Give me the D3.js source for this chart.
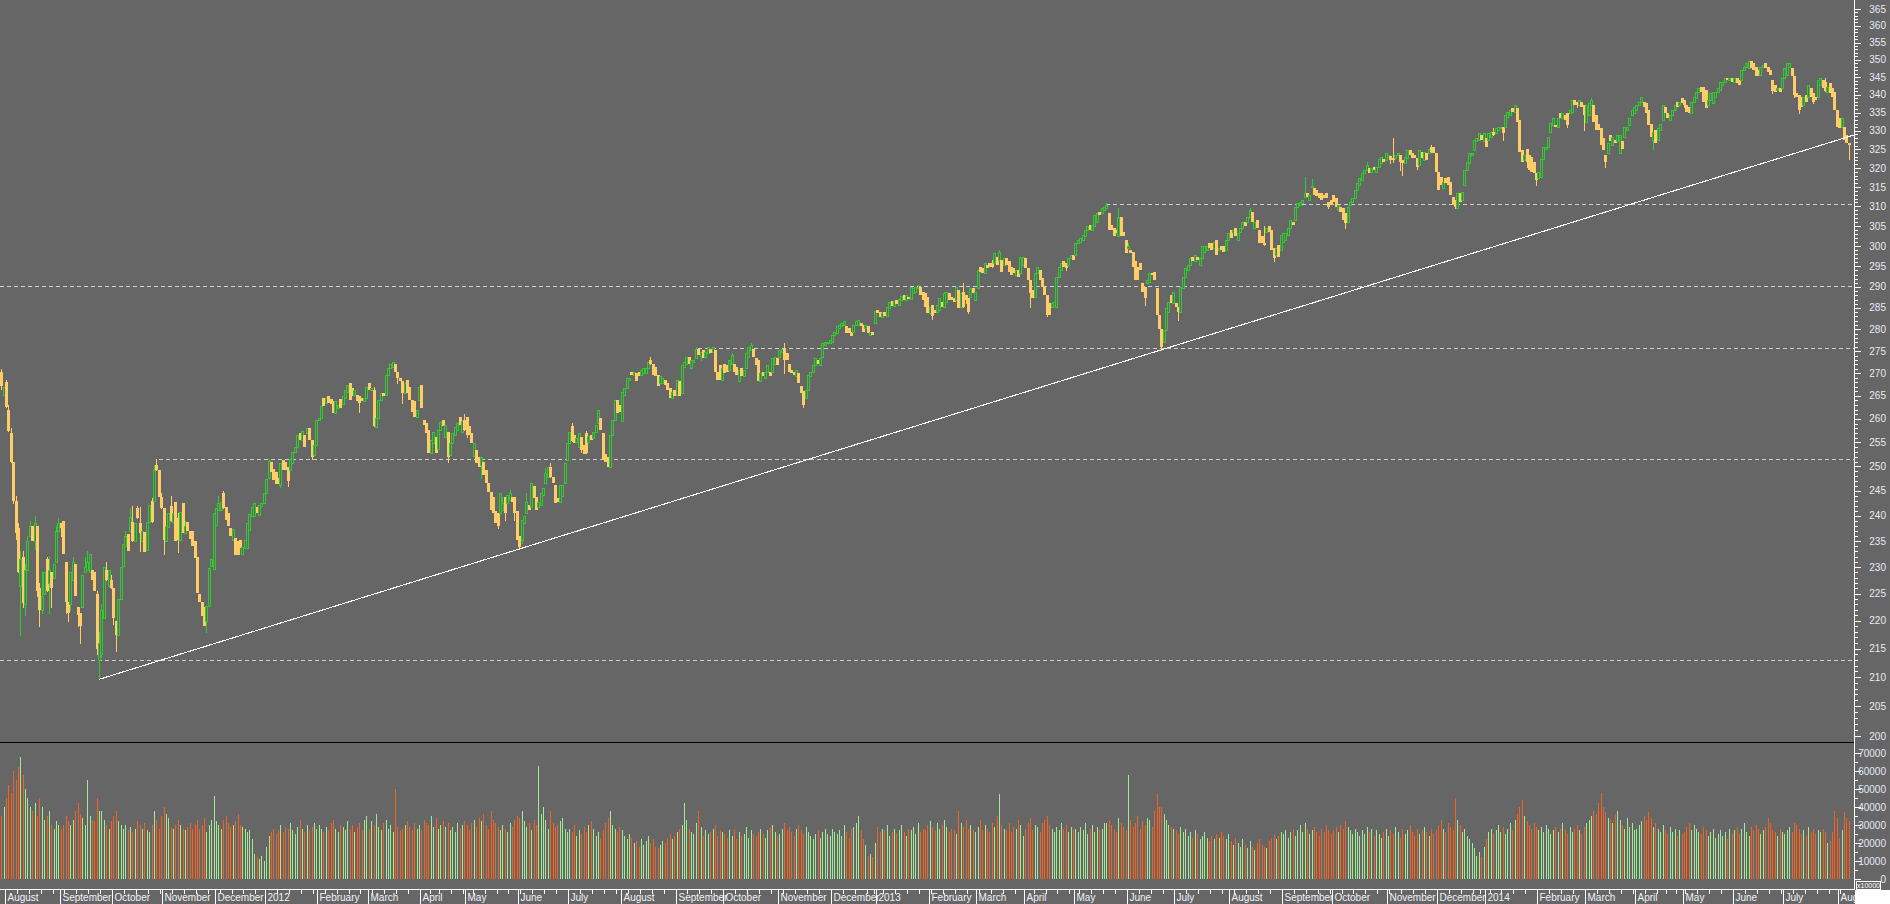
<!DOCTYPE html>
<html><head><meta charset="utf-8">
<script src="https://cdn.jsdelivr.net/npm/d3@7"></script>
<style>html,body{margin:0;padding:0;background:#666;overflow:hidden}svg{display:block}</style>
</head><body>
<svg id="chart" width="1890" height="904"></svg>
<script>
// ---------- DATA ----------
const firstDay = "2011-07-28", lastDay = "2014-08-07";
const holidays = ["2011-12-26","2012-04-06","2012-04-09","2012-05-01","2012-12-25","2012-12-26",
 "2013-01-01","2013-03-29","2013-04-01","2013-05-01","2013-12-25","2013-12-26",
 "2014-01-01","2014-04-18","2014-04-21","2014-05-01"];
const monthNames = ["January","February","March","April","May","June","July","August","September","October","November","December"];

const opens = [
// 2011 Jul-Aug
270.2,265.2,
268,262,257,251,243,237.5,226.5,232,223,229.5,236,238,235,238,226,222,225,231.5,227,229,228,231,237,
// Sep
238.5,239,231,223.5,223,227.5,230.5,222.5,221.5,222.5,229,229.5,229,229.5,229,225,213,214,220.5,229.5,226.5,227.6,
// Oct
226,220,217.5,224,230.3,234,236.3,237,238.8,235,241.5,238.6,235,236.8,233.2,238.8,243,243,250.3,249.3,243.8,
// Nov
241.5,235,237.8,242,238.7,242.8,239.5,235.3,242.5,236.6,238.8,237,236.9,235,232,224.9,223.4,222.5,219.9,222.8,230.3,229.6,
// Dec
238.2,241.2,241.2,244.5,241.8,240.6,237.6,235.3,235.6,235,235.3,232.6,233.7,233.7,237.2,239.9,239.9,241.8,240.2,242,242.5,
// 2012 Jan
244.5,247.5,251,249.4,248.9,247.6,246.2,251.3,250.9,249.9,249.3,250.6,253,254.1,256.9,255.5,256.6,256.9,258,255.5,252.3,254.4,
// Feb
259.8,260.1,264.5,263.5,265,264.3,263.9,261.3,262.4,264.3,263.2,264.6,265.9,267.8,266.7,265.2,265.2,264.9,264.6,263.9,264.6,
// Mar
267.8,266.3,266.3,258.2,260.2,264.1,265.6,265.2,269.6,271.1,271.5,272.2,270.4,268.9,268.2,265.6,268.5,267,264.2,263.9,260.5,264.2,
// Apr
267.4,259.8,259.1,257.7,252.7,254.8,256.2,253.7,257.7,259.8,256.2,257.3,252.3,254.8,256.5,257.7,260.5,257.3,259.8,
// May
260.5,258.5,257,252.2,253.4,252,250.3,251,249.3,246.5,244.8,243.8,240.9,240.5,240.5,241.2,243.8,242.5,243.2,243.8,243.8,240.9,
// Jun
235.9,235.3,238.5,240.5,242.2,241.8,246,243.8,241.8,242.2,244.2,246.5,247.9,249.9,247.9,246.2,243.5,242.8,244,246.5,251.3,
// Jul
254.8,258.4,256.6,255.1,254.1,256.2,254.4,256.9,255.1,256.6,255.9,257.3,259.1,260.2,257,252.6,252,249.9,256.6,259.8,264.1,263,
// Aug
259.5,265.2,266.7,268.6,270.4,269.7,270,270.4,269.7,270,270,271.1,273,272.2,271.5,269.7,267.8,267.8,268.6,267.8,266.7,264.5,266.3,
// Sep
265.2,268.2,265.6,271.5,272.2,273.7,271.1,272.6,273.4,275.6,274,275.3,273.7,274.5,275.6,274.9,275.3,270.4,271.8,268.6,
// Oct
272.2,271.8,270.8,272.2,272.2,271.5,268.2,271.1,269.3,271.1,273.7,275.3,275.6,273.4,273,268.2,270.4,268.9,270.4,270.4,270.4,272.2,273.4,
// Nov
273.7,274.9,275.6,274.5,272.2,270.8,270.4,269.3,270,267.1,266,264.5,266.3,269.3,270.4,271.8,273,271.8,273.7,276.4,276.8,276.8,
// Dec
277.2,278.7,279.1,280.3,280.7,281.1,280.7,280.3,279.5,279.5,281.1,281.1,281.5,281.1,280.3,280.7,278.7,279.5,281.5,
// 2013 Jan
284.5,284,282.8,284,283,285,286.6,285.4,286.8,285.8,287,288,286.9,287.5,287.2,288.5,288.9,289.7,290.1,288.9,288.5,287.5,
// Feb
283.8,285.7,284.5,284.1,284.5,286.5,285.3,286.5,288.5,287.7,287.3,286.9,289.3,285.3,288.9,288.1,287.3,287.7,289.7,286.9,
// Mar
289.7,294.9,294.5,293.3,295.3,295.7,295.7,295.7,297.4,296.6,296.6,295.3,297,296.2,294.9,294.5,292.9,294.1,293.3,295.3,
// Apr
297,294.5,291.7,289.3,287.7,293.3,294.1,292.1,290.1,288.1,286.1,285.3,285.7,285.3,292.5,294.1,296.2,295.7,295.3,297,297.8,
// May
297.8,300.7,301.1,301.5,302.4,304,305.3,304,304.9,306,308.6,308.2,309.1,309.5,308.2,305.3,304.4,304,302.4,307.4,303.6,301.5,
// Jun
299.4,299,298.6,296.2,294.9,295.7,290.9,290.1,290.9,291.3,293.3,293.7,289.7,283.4,280.2,277.1,279.8,284.1,288.1,286.1,
// Jul
286.1,285.3,284.1,289.7,292.5,294.1,295.3,297.4,296.2,297.4,295.3,297,298.6,299,300.7,300.7,299.4,301.5,299,299.9,299.9,299,301.5,
// Aug
304,303.6,304.4,301.5,303.6,304.4,306.1,306.1,307.4,308.6,304.4,306.5,304,302.4,300.7,303.6,304.9,304,299.4,297.8,300.3,299,
// Sep
301.1,301.5,302.8,304.4,306.1,306.5,309.9,310.3,310.8,312.5,313.5,311.6,315,314.7,314.3,313.4,313.4,313,313.4,311.2,311.7,
// Oct
312.9,312.1,309.1,309.9,309.5,308.2,306.1,310.3,311.2,312.1,314.3,315.6,316.9,318.6,319.4,319.9,319,320.3,319,320.3,321.2,322.5,322.1,
// Nov
323,323.2,322.6,322.6,323.4,323.4,322.1,321.2,322.6,324.8,323.9,323.4,322.6,320.8,324.3,322.1,323.9,323.9,325.7,325.7,323.9,
// Dec
319,317.7,314.7,317.3,317.7,316.4,312.5,311.6,309.5,313.4,311.6,315.6,319.4,321.2,323.4,324.8,327.1,327.5,328.8,327.1,
// 2014 Jan
328,327.5,328.4,329.8,329.3,330.2,330.7,331.1,331.1,333.9,334.3,336.2,335.3,336.2,332.9,324.8,322.1,325.2,323.4,323,321.7,318.6,
// Feb
317.3,317.7,322.5,325.2,325.7,329.8,331.6,331.6,331.1,334.8,333.4,334.3,334.8,334.8,335.3,338.5,338.1,337.1,338.1,337.1,
// Mar
332.5,334.3,337.1,337.1,334.3,332,330.7,328,323.4,323.9,328.8,326.1,327.5,327.1,323.9,327.1,328.4,330.2,331.6,334.3,334.8,
// Apr
335.7,337.1,338.1,338.1,337.6,335.7,332,327.5,330.2,327.5,330.2,332.9,336.6,334.8,332.9,334.3,335.7,338.1,337.1,339,
// May
338.5,337.1,336.6,334.8,338.1,339,340.9,342.3,342.3,341.4,337.1,338.5,337.6,339.5,340.9,341.4,342.8,343.7,344.7,344.2,344.7,
// Jun
343.7,344.7,344.2,344.2,347.1,348,347.6,349.5,349,348,347.1,345.7,348,349,348,347.1,344.2,342.8,341.4,341.8,341.8,
// Jul
344.7,345.7,348,347.6,345.2,340.4,340,339.5,337.1,339.9,339.5,341.8,340.4,339.5,339.5,342.8,344.2,343.7,340.9,343.3,341.8,340.9,335.7,
// Aug
333.4,331.1,331.1,328.8,326.6
];

const closes = [
267.2,267.0,
262.5,257.5,251,243,236.5,229,231.5,223.2,229.5,235,238,235,238.5,225.5,222,224.5,229,225.5,229.5,226,230.5,237,238.5,
237.5,232.5,223.5,221.5,229,231,224.5,221,219,228.5,230,231,232.5,227.5,225.5,215,216,222,230,227.5,229.5,226,
220.5,217.5,224,230,234.5,236,233,239.8,235,238.5,239.5,236.5,237,232.8,238.8,242.1,238.8,249.3,249.3,243.8,241.5,
235.3,238,240.5,239,240.5,235,235.3,240.8,236.6,238,236.9,235.5,234,231.7,225.2,223.4,220.9,219,222.8,229.8,231.6,240.5,
241.5,242.5,242.8,241.5,239.1,237.9,235.9,237.4,232.3,232.4,233.7,233.9,235.3,238.5,240.4,241.8,242.5,240.5,242.1,242.6,244.5,
247.3,251.2,248.9,247.2,246.4,246.4,250.6,249.3,249.3,246.9,251.6,253,254,256.6,255.5,257.5,254.1,258,255.5,252,254.4,259.8,
260.1,262.7,262.7,264.6,263.5,263.2,261.3,263.9,263.1,262.4,265,266.3,267.4,264.1,264.9,266.3,263.8,263.5,263.9,264.5,267,
266.3,266.8,258.4,260.2,264.1,265.6,264.9,269.6,271.1,272.2,272.6,270.4,268.9,268.2,265.6,267.8,265.6,264.2,261.6,260.5,262,267,
262.3,258.7,256.9,252.7,255.5,257.3,252.7,257.7,259.4,258.4,258.7,252,254.8,257,258.2,259.1,258.8,259.5,257.7,
256.6,256.6,254.8,254.8,250.6,249.9,252,248.2,246.5,244.8,241.2,240.5,238.5,237.9,244.6,242.5,240.5,244.2,244.6,242.8,240.5,235.3,
233.9,239.2,239.9,242.8,241.2,246.5,243.5,241.2,242.8,244.5,245.5,248.6,249.9,247.9,246.5,242.5,242.8,246.2,246.2,250.6,254.8,
257.3,255.2,254.8,255.9,257,253.4,252.6,252.7,256.4,255.5,257.3,258.8,262,257.7,251.3,250.9,249.9,256.6,259.8,264.1,261.3,261.6,
265.9,266.7,268.9,268.9,269.7,270.4,268.2,269.3,270.8,271.1,271.1,272.6,272.2,269.7,269.3,267.1,269.3,268.9,267.4,266.3,264.5,265.9,264.9,
268.6,264.9,271.8,272.6,273.7,272.2,273,273,275.6,274.1,274.9,273.4,274.9,276,274.5,276,270.4,268.6,268.6,271.1,
270,270.4,273,274.1,270.4,269.7,270.8,269.3,270.8,274.5,276,276.4,273.7,271.8,268.2,270,269.3,270.4,271.8,269.3,273.4,273.7,271.8,
275.3,275.6,273,273,270.4,270,269.7,270.8,267.8,265.6,263,266.3,269.7,270.4,271.8,273.4,272.2,273.4,276.8,277.2,277.2,277.6,
278.7,279.5,280.7,281.1,281.5,281.9,279.2,279.2,278.4,281.1,281.9,282.2,280.7,279.5,281.1,279.1,279.5,278.8,284.3,
283.8,282.8,283.9,283.2,285.2,286.4,285.5,286.6,285.9,287.2,287.9,286.9,288.1,287.2,290.1,289.7,290.1,290.1,288.1,286.9,285.3,283.8,
285.3,283,283.8,285.7,287.3,285.3,288.5,288.9,286.9,286.9,286.5,290.1,284.9,288.5,285.3,286.9,284.1,289.7,288.5,288.9,
294.1,293.7,293.3,295.7,294.5,294.9,294.9,298.2,295.3,298.6,293.7,297,295.3,293.7,292.9,293.3,294.1,292.5,297.4,297.4,
294.5,291.7,288.5,287.3,293.3,294.9,291.7,290.1,288.1,283.4,283.4,286.1,286.5,292.5,294.9,295.7,294.9,294.5,297,297.8,296.6,
300.7,301.5,301.9,302.8,304,304.9,304,305.3,307.8,308.2,307.8,309.5,309.9,310.3,304,304,302.4,303.2,307.4,302.4,302.4,298.2,
299.9,298.2,294.9,291.7,291.7,294.1,288.9,287.3,291.7,293.3,292.9,291.7,283.4,280.2,275.9,279.8,284.9,286.5,286.1,288.9,
285.3,284.1,290.1,292.5,294.5,295.3,297,296.2,297.8,296.6,297,299.9,299.9,299.9,299.4,299,301.1,297.8,299.4,299,298.6,301.5,303.2,
301.9,304,302.4,303.2,304.4,306.1,304.9,307.4,309.1,306.1,306.1,304.4,300.7,300.7,300.3,304.4,303.6,299,297,299.4,297.4,302.8,
303.2,303.2,304.4,306.5,305.3,309.9,310.8,311.2,311.6,313.5,312.5,313,315.4,313,312.6,312.2,311.7,312.2,312.2,309.9,310.4,
311.2,309.9,310.3,308.6,306.5,305.7,309.9,311.2,312.1,314.3,316,317.3,318.6,319.4,320.8,318.6,319.9,319.4,320.3,322.5,323,321.7,323.9,
323.4,322.1,322.1,323.4,323.9,321.7,321.2,323,324.8,323.4,322.6,322.6,320.3,324.8,322.6,324.3,322.1,325.2,324.3,323.9,319,
314.3,315.6,316.4,316,315.6,313,310.4,309.9,313.4,311.2,313.8,319.4,321.7,323.9,323.9,327.5,328,329.3,327.5,329.3,
325.7,329.3,329.8,328.8,330.7,331.1,331.1,329.3,334.3,335.3,335.7,335.3,337.1,332.5,324.3,321.7,323.4,321.7,319.4,319,318.6,316.9,
319,322.5,325.7,325.7,328.4,332.1,333.4,331.1,333.4,333.4,334.8,332.9,331.6,335.7,338.5,337.1,337.1,338.5,336.6,334.3,
337.1,337.6,338.5,332.5,330.2,330.2,326.1,324.8,321.7,326.6,327.1,328.4,326.6,328.8,328.8,325.2,331.1,331.1,333.4,335.7,336.6,
337.1,338.1,339.5,336.6,334.8,331.6,328.4,329.8,326.6,330.7,332,337.1,334.8,333.4,334.3,335.7,337.1,336.6,338.1,337.6,
337.1,335.3,334.8,338.1,339.5,340.9,341.8,340.9,338.1,336.2,338.5,340.4,340.9,340.9,341.8,343.7,343.7,344.7,344.2,344.7,343.7,
344.7,343.3,342.8,347.1,348,349,349.5,347.6,347.1,345.2,345.2,348,348.5,347.6,346.6,345.7,341,340.9,341.8,340.9,344.7,
347.6,349,349,345.2,340,339.5,335.7,336.6,339.5,338.1,342.8,339.5,338.1,338.5,344.2,344.7,341.8,341,342.3,340.4,339.5,335.7,331.1,
330.7,333.4,327.5,326.6,326.1
];

// wick extremes where the picture shows them: [bar, price]
const highs = [[0,271],[2,268.5],[3,263],[4,258],[6,244],[7,238.5],[8,233],[9,233],[10,230.5],[11,236],[12,239],[14,240],[16,227],[17,229],[19,232],[20,232],[23,238],[24,239.5],[30,232],[35,232],[36,233],[40,225.5],[41,218],[42,223],[44,231],[46,228.5],[52,237],[54,241.5],[55,242],[57,242],[58,241.8],[63,243.5],[64,250.3],[65,251.5],[67,244.5],[71,244],[74,240.5],[77,239],[91,244],[93,244.9],[112,251.5],[156,267],[194,261],[210,243.8],[213,245.2],[220,244.5],[228,249.6],[230,250.6],[239,259.1],[245,257.4],[272,273.7],[291,275.9],[306,274.5],[314,276.9],[328,276.8],[384,290.5],[395,288.9],[403,290.9],[415,296.5],[418,299],[463,310.8],[468,309.5],[472,300.7],[523,309.5],[529,305],[546,317.7],[549,317.2],[572,321.7],[583,328],[599,326.2],[625,330.7],[666,339],[764,344.7]];
const lows = [[0,266.5],[5,242.5],[6,235.5],[8,217.5],[9,222.5],[10,221],[14,233.5],[15,224.5],[16,219],[17,221.5],[20,221.5],[21,222.5],[25,236],[27,221.5],[28,220],[29,222],[32,219],[33,216],[40,214],[41,209.6],[42,213.5],[47,219.5],[48,214.5],[58,233],[68,232.6],[74,232.8],[86,217.9],[117,245.8],[120,246],[130,251.5],[150,261.6],[166,267.8],[168,263.5],[187,250.9],[195,256.2],[201,247.5],[208,237.5],[211,239.2],[215,239.2],[217,233.4],[218,234.6],[243,253],[293,273],[328,270],[336,262.5],[390,282.5],[404,286.1],[405,283.8],[431,285.3],[438,283],[446,294.1],[479,285.7],[486,275.3],[493,282.2],[533,296.2],[556,309.5],[563,304.4],[582,321.2],[583,321.6],[586,319.4],[587,318.2],[593,319.8],[609,309.5],[629,327.5],[639,320.3],[643,315.6],[656,331.1],[660,336.6],[663,330.2],[672,320.3],[692,325.2],[705,336.6],[742,340.4],[751,339.5],[753,334.8],[759,337.6],[774,322.5]];

// volume, thousands of units
const volumes = [
35,40,45,52,48,60,55,62,68,58,50,45,40,38,42,35,45,40,33,35,38,30,28,32,30,
28,30,35,32,30,33,38,42,36,34,30,55,35,33,32,45,38,38,33,30,28,32,
35,38,32,30,28,30,27,29,26,28,32,30,28,31,27,26,30,38,33,28,35,
40,36,34,29,28,30,33,30,28,27,29,31,28,30,33,28,30,34,26,30,33,46,
32,30,28,33,35,31,29,30,32,36,30,29,28,26,27,22,14,12,11,13,10,
18,24,26,28,25,27,30,26,29,28,31,27,25,29,33,28,26,30,27,29,31,28,
30,28,26,29,27,31,33,28,26,30,29,27,32,28,30,26,29,31,27,33,35,
28,32,30,36,29,27,31,33,28,30,26,50,29,27,28,30,32,29,27,31,28,30,
27,33,31,30,35,29,34,28,30,32,29,31,27,29,26,31,28,30,32,
30,27,31,33,29,34,32,36,30,28,38,33,31,29,27,30,28,26,31,29,33,35,
34,38,32,29,31,27,33,30,63,36,40,33,28,38,31,29,30,32,34,28,26,
28,26,30,24,27,25,29,26,30,32,28,24,26,23,27,31,34,38,30,28,26,29,
27,24,22,25,23,20,21,18,22,19,21,24,20,22,18,17,19,21,20,23,25,22,24,
26,28,30,42,33,28,26,25,31,38,29,24,27,25,26,28,30,24,27,26,
25,23,27,24,28,22,26,24,25,29,23,27,25,24,26,28,25,23,27,29,30,26,24,
25,28,31,27,29,26,24,28,30,27,25,29,26,24,22,25,27,23,26,28,25,24,
28,26,25,27,24,30,26,23,28,29,31,35,27,22,19,13,14,12,20,
29,26,28,27,30,24,26,28,25,27,30,26,24,28,27,29,25,31,26,28,27,30,
32,29,27,31,28,30,33,29,26,28,27,25,38,31,29,33,28,30,27,26,
29,33,27,30,28,26,31,29,35,47,30,28,27,31,26,29,28,33,30,24,
28,31,34,27,30,29,26,31,33,35,30,28,26,29,27,31,28,30,26,29,27,
28,26,29,27,31,25,28,30,26,29,27,28,31,31,33,30,28,26,34,31,29,27,
58,33,29,31,35,28,32,30,34,33,29,38,47,40,40,36,33,30,29,28,
27,25,29,26,28,24,26,23,27,25,22,24,26,23,21,24,22,25,23,26,24,22,25,
21,19,23,20,18,22,19,17,21,18,16,20,22,19,18,17,21,23,25,22,24,26,
25,27,23,26,28,24,27,30,26,31,28,25,27,29,26,24,28,26,30,27,25,
27,29,26,30,28,32,29,27,25,28,26,24,27,25,29,26,28,24,27,25,23,26,28,
24,27,25,29,26,23,28,25,27,30,26,24,28,25,27,29,26,24,28,25,27,
30,33,28,26,31,29,27,45,33,30,26,28,24,22,20,17,13,15,12,18,
22,26,28,25,27,30,26,29,25,28,31,27,33,36,40,44,35,32,30,28,31,29,
27,29,26,30,28,25,27,29,26,28,31,27,25,29,26,28,30,27,25,29,
31,33,35,38,36,42,48,40,37,34,33,31,36,38,33,30,28,34,29,31,27,
28,30,32,35,33,37,34,29,31,28,26,30,27,25,29,26,28,24,27,25,
26,29,31,27,30,28,26,25,29,27,24,26,28,23,25,27,24,26,22,28,25,
27,29,25,28,31,26,24,29,27,30,28,25,27,29,34,31,27,26,24,28,26,
25,27,29,26,31,30,28,25,27,24,29,26,28,25,27,26,28,26,20,21,26,38,34,
23,27,37,34,32
];

// horizontal reference levels: price and the bar where each starts
const levelPrices = [213.0, 251.5, 275.8, 290.2, 310.6];
const levelStarts = [0, 66, 292, 0, 463];
// trend line through two lows: bar index and price
const trendBars = [41, 486];
const trendPrices = [209.6, 275.3];

const priceMin = 200, priceMax = 365;
const volMax = 70000;

// ---------- DRAW ----------
const W = 1890, H = 904;
const axisX = 1854, priceBottom = 742, axisY = 889;
const BG = "#666666";
const svg = d3.select("#chart");
svg.append("rect").attr("width", W).attr("height", H).attr("fill", BG);

const parse = d3.utcParse("%Y-%m-%d"), fmt = d3.utcFormat("%Y-%m-%d");
const hol = new Set(holidays);
const dates = [];
for (let d = parse(firstDay); d <= parse(lastDay); d = d3.utcDay.offset(d, 1)) {
  const wd = d.getUTCDay();
  if (wd === 0 || wd === 6 || hol.has(fmt(d))) continue;
  dates.push(d);
}
const N = closes.length;

const x = d3.scaleBand().domain(d3.range(N)).range([0, 1850]);
const xc = i => x(i) + x.bandwidth() / 2;
const y = d3.scaleLog().domain([priceMin, priceMax]).range([736, 9]);
const yv = d3.scaleLinear().domain([0, volMax]).range([879, 753]);

const hiMap = new Map(highs), loMap = new Map(lows);
const UP = "#2fcb2f", DOWN = "#ffcc66";
const VUP = "#a0eb93", VDOWN = "#f4621f";

// level lines
const lv = svg.append("g").attr("shape-rendering", "crispEdges");
levelPrices.forEach((p, k) => {
  const yy = Math.round(y(p)) + 0.5;
  lv.append("line").attr("x1", levelStarts[k] === 0 ? 0 : Math.round(xc(levelStarts[k])))
    .attr("x2", axisX).attr("y1", yy).attr("y2", yy)
    .attr("stroke", "#d0d0d0").attr("stroke-width", 1).attr("stroke-dasharray", "4,3");
});

// candles
const cg = svg.append("g").attr("shape-rendering", "crispEdges");
for (let i = 0; i < N; i++) {
  const o = opens[i], c = closes[i];
  const top = Math.max(o, c), bot = Math.min(o, c);
  const hi = Math.max(top, hiMap.has(i) ? hiMap.get(i) : top);
  const lo = Math.min(bot, loMap.has(i) ? loMap.get(i) : bot);
  const xr = Math.round(xc(i));
  const up = c > o;
  const col = up ? UP : DOWN;
  const yt = Math.round(y(top)), yb = Math.round(y(bot));
  if (hi > top || lo < bot) {
    cg.append("line").attr("x1", xr + 0.5).attr("x2", xr + 0.5)
      .attr("y1", Math.round(y(hi))).attr("y2", Math.round(y(lo)) + 1)
      .attr("stroke", col).attr("stroke-width", 1);
  }
  if (up) {
    if (yb - yt >= 2) {
      cg.append("rect").attr("x", xr - 0.5).attr("y", yt + 0.5)
        .attr("width", 2).attr("height", yb - yt)
        .attr("fill", BG).attr("stroke", col).attr("stroke-width", 1);
    } else {
      cg.append("rect").attr("x", xr - 1).attr("y", yt).attr("width", 3).attr("height", Math.max(1, yb - yt + 1)).attr("fill", col);
    }
  } else {
    cg.append("rect").attr("x", xr - 1).attr("y", yt).attr("width", 3)
      .attr("height", Math.max(1, yb - yt)).attr("fill", col);
  }
}

// trend line (straight on the chart), extended to the price axis
{
  const x1 = xc(trendBars[0]), y1 = y(trendPrices[0]);
  const x2 = xc(trendBars[1]), y2 = y(trendPrices[1]);
  const slope = (y2 - y1) / (x2 - x1);
  svg.append("line").attr("x1", x1).attr("y1", y1).attr("x2", axisX).attr("y2", y1 + slope * (axisX - x1))
    .attr("stroke", "#ffffff").attr("stroke-width", 1.1).attr("shape-rendering", "crispEdges");
}

// volume bars
const vg = svg.append("g").attr("shape-rendering", "crispEdges");
for (let i = 0; i < N; i++) {
  const v = volumes[i] * 1000;
  const xr = Math.round(xc(i));
  const yt = Math.round(yv(v));
  vg.append("rect").attr("x", xr).attr("y", yt).attr("width", 1).attr("height", Math.round(yv(0)) - yt)
    .attr("fill", closes[i] > opens[i] ? VUP : VDOWN);
}

// panel separator
svg.append("line").attr("x1", 0).attr("x2", axisX).attr("y1", priceBottom + 0.5).attr("y2", priceBottom + 0.5)
  .attr("stroke", "#000").attr("stroke-width", 1).attr("shape-rendering", "crispEdges");

// right axis
const ax = svg.append("g").attr("shape-rendering", "crispEdges");
ax.append("line").attr("x1", axisX + 0.5).attr("x2", axisX + 0.5).attr("y1", 0).attr("y2", axisY)
  .attr("stroke", "#fff");
const TXT = "#e4ecf8";
const FONT = "'Liberation Sans', Arial, sans-serif";
for (let p = priceMin; p <= priceMax; p++) {
  const yy = Math.round(y(p)) + 0.5;
  const major = p % 5 === 0;
  ax.append("line").attr("x1", axisX + 1).attr("x2", axisX + (major ? 7 : 4)).attr("y1", yy).attr("y2", yy).attr("stroke", "#fff");
}
const priceTicks = d3.range(priceMin, priceMax + 1, 5);
svg.append("g").selectAll("text").data(priceTicks).join("text")
  .attr("x", 1886).attr("y", d => y(d)).attr("dy", "0.35em").attr("text-anchor", "end")
  .attr("font-family", FONT).attr("font-size", 10).attr("fill", TXT).text(d => d);

const volTicks = d3.range(0, volMax + 1, 10000);
for (let v = 0; v <= volMax; v += 5000) {
  const yy = Math.round(yv(v)) + 0.5;
  const major = v % 10000 === 0;
  ax.append("line").attr("x1", axisX + 1).attr("x2", axisX + (major ? 7 : 4)).attr("y1", yy).attr("y2", yy).attr("stroke", "#fff");
}
svg.append("g").selectAll("text").data(volTicks).join("text")
  .attr("x", 1886).attr("y", d => yv(d)).attr("dy", "0.35em").attr("text-anchor", "end")
  .attr("font-family", FONT).attr("font-size", 10).attr("fill", TXT).text(d => d);

// bottom axis
ax.append("line").attr("x1", 0).attr("x2", axisX + 1).attr("y1", axisY + 0.5).attr("y2", axisY + 0.5).attr("stroke", "#fff");
for (let i = 1; i < N; i++) {
  const d = dates[i], p = dates[i - 1];
  if (!d || !p) continue;
  const xx = Math.round(x(i)) + 0.5;
  if (d.getUTCMonth() !== p.getUTCMonth()) {
    ax.append("line").attr("x1", xx).attr("x2", xx).attr("y1", axisY).attr("y2", H).attr("stroke", "#fff");
    const m = d.getUTCMonth();
    svg.append("text").attr("x", xx + 2).attr("y", 901)
      .attr("font-family", FONT).attr("font-size", 10).attr("fill", "#eef2fa")
      .text(m === 0 ? String(d.getUTCFullYear()) : monthNames[m]);
  } else if (d.getUTCDay() < p.getUTCDay()) {
    ax.append("line").attr("x1", xx).attr("x2", xx).attr("y1", axisY).attr("y2", axisY + 5).attr("stroke", "#fff");
  }
}

// unit box and corner
svg.append("rect").attr("x", axisX + 1).attr("y", axisY + 1).attr("width", W - axisX - 1).attr("height", H - axisY - 1).attr("fill", "#fff");
svg.append("rect").attr("x", 1856.5).attr("y", 881.5).attr("width", 24).attr("height", 8)
  .attr("fill", BG).attr("stroke", "#fff").attr("shape-rendering", "crispEdges");
svg.append("text").attr("x", 1868.5).attr("y", 888).attr("text-anchor", "middle")
  .attr("font-family", FONT).attr("font-size", 7).attr("fill", "#fff").text("x10000");
</script>
</body></html>
